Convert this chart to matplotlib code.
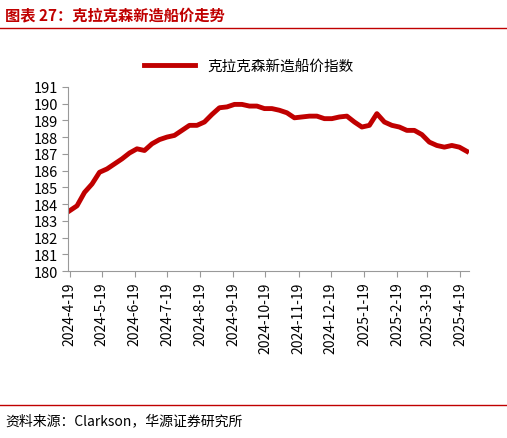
import matplotlib.pyplot as plt
import matplotlib.dates as mdates
import pandas as pd

plt.rcParams['font.family'] = ['Noto Sans CJK SC', 'DejaVu Sans']

vals = [183.6, 183.9, 184.7, 185.2, 185.9, 186.1, 186.4, 186.7, 187.05, 187.3,
        187.2, 187.6, 187.85, 188.0, 188.1, 188.4, 188.7, 188.7, 188.9, 189.35,
        189.75, 189.8, 189.95, 189.95, 189.85, 189.85, 189.7, 189.7, 189.6, 189.45,
        189.15, 189.2, 189.25, 189.25, 189.1, 189.1, 189.2, 189.25, 188.9, 188.6,
        188.7, 189.4, 188.9, 188.7, 188.6, 188.4, 188.4, 188.15, 187.7, 187.5,
        187.4, 187.5, 187.4, 187.15]
dates = pd.date_range("2024-04-19", periods=len(vals), freq="7D")
tick_dates = pd.to_datetime(["2024-4-19", "2024-5-19", "2024-6-19", "2024-7-19", "2024-8-19",
                             "2024-9-19", "2024-10-19", "2024-11-19", "2024-12-19", "2025-1-19",
                             "2025-2-19", "2025-3-19", "2025-4-19"])
tick_labels = [f"{d.year}-{d.month}-{d.day}" for d in tick_dates]

fig = plt.figure(figsize=(5.07, 4.39), dpi=100)
ax = fig.add_axes([0.135, 0.38, 0.79, 0.42])
ax.plot(dates, vals, color="#c00000", lw=3.5, label="克拉克森新造船价指数")
ax.set_ylim(180, 191)
ax.set_yticks(range(180, 192))
ax.set_xlim(dates[0] - pd.Timedelta(days=1), dates[-1] + pd.Timedelta(days=2))
ax.set_xticks(tick_dates)
ax.set_xticklabels(tick_labels, rotation=90, fontsize=10)
ax.tick_params(axis="y", labelsize=10.5)
for s in ["top", "right"]:
    ax.spines[s].set_visible(False)
for s in ["left", "bottom"]:
    ax.spines[s].set_color("#999999")
ax.tick_params(color="#999999", length=4)
ax.legend(loc="upper center", bbox_to_anchor=(0.45, 1.22), frameon=False, fontsize=10.5, handlelength=3.5)

fig.text(0.01, 0.965, "图表 27：克拉克森新造船价走势", color="#c00000", fontsize=11, fontweight="bold", va="center")
fig.add_artist(plt.Line2D([0.0, 1.0], [0.935, 0.935], color="#c00000", lw=1))
fig.add_artist(plt.Line2D([0.0, 1.0], [0.075, 0.075], color="#c00000", lw=1))
fig.text(0.01, 0.04, "资料来源：Clarkson，华源证券研究所", fontsize=10, va="center")

fig.savefig("out.png", dpi=100)
